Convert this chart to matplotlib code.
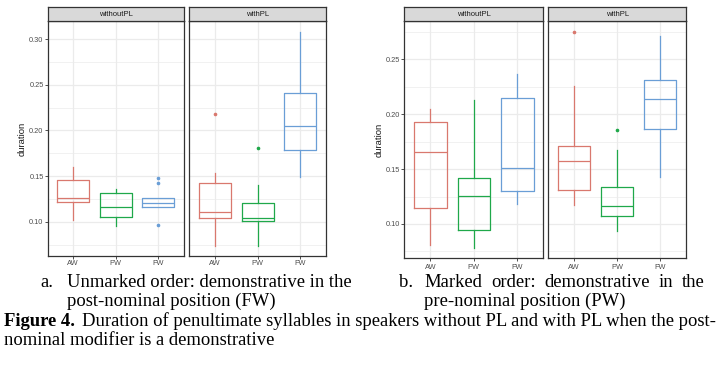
import matplotlib
matplotlib.use('Agg')
import matplotlib.pyplot as plt
import numpy as np

W, H = 727, 366

# categories and facets
groups = ['AW', 'PW', 'FW']
facets = ['withoutPL', 'withPL']
colors = ['#D9786E', '#1FA84A', '#6A9ED6']

# box stats per category: [lower whisker, Q1, median, Q3, upper whisker]
a_withoutPL = [[0.1015, 0.1215, 0.1260, 0.1456, 0.1600],
               [0.0960, 0.1058, 0.1160, 0.1321, 0.1358],
               [0.1160, 0.1160, 0.1204, 0.1260, 0.1260]]
a_withoutPL_out = [[], [], [0.1485, 0.1430, 0.0964]]
a_withPL = [[0.0740, 0.1043, 0.1106, 0.1423, 0.1533],
            [0.0740, 0.1011, 0.1047, 0.1205, 0.1405],
            [0.1496, 0.1785, 0.2047, 0.2405, 0.3077]]
a_withPL_out = [[0.2179], [0.1810], []]

b_withoutPL = [[0.0812, 0.1143, 0.1653, 0.1926, 0.2048],
               [0.0785, 0.0945, 0.1252, 0.1422, 0.2133],
               [0.1179, 0.1297, 0.1506, 0.2145, 0.2363]]
b_withoutPL_out = [[], [], []]
b_withPL = [[0.1176, 0.1313, 0.1571, 0.1708, 0.2254],
            [0.0939, 0.1070, 0.1161, 0.1340, 0.1674],
            [0.1432, 0.1863, 0.2136, 0.2315, 0.2712]]
b_withPL_out = [[0.2752], [0.1853], []]

a_major = [0.10, 0.15, 0.20, 0.25, 0.30]
b_major = [0.10, 0.15, 0.20, 0.25]
minor_ticks = [0.075, 0.125, 0.175, 0.225, 0.275]


def px_axes(fig, x0, y0, x1, y1):
    return fig.add_axes([x0 / W, 1 - y1 / H, (x1 - x0) / W, (y1 - y0) / H])


def draw_panel(ax, stats, outs, ylim, major, show_y, xpad):
    for i, (s, o) in enumerate(zip(stats, outs)):
        st = [dict(whislo=s[0], q1=s[1], med=s[2], q3=s[3], whishi=s[4], fliers=o)]
        c = colors[i]
        ax.bxp(st, positions=[i + 1], widths=0.75, showcaps=False,
               boxprops=dict(color=c, linewidth=0.9),
               whiskerprops=dict(color=c, linewidth=0.9),
               medianprops=dict(color=c, linewidth=0.9),
               flierprops=dict(marker='o', markersize=1.6, markerfacecolor=c,
                               markeredgecolor=c, linestyle='none'),
               zorder=3)
    ax.set_xlim(0.4, 3.6)
    ax.set_ylim(*ylim)
    ax.set_xticks([1, 2, 3])
    ax.set_xticklabels(groups)
    ax.set_yticks(major)
    ax.set_yticks(minor_ticks, minor=True)
    ax.set_yticklabels(['%.2f' % v for v in major])
    ax.grid(True, which='major', color='#EBEBEB', linewidth=0.9, zorder=0)
    ax.grid(True, which='minor', axis='y', color='#EBEBEB', linewidth=0.5, zorder=0)
    ax.set_axisbelow(True)
    ax.tick_params(axis='both', which='major', length=2.2, width=0.6, color='#333333',
                   labelsize=5.3, labelcolor='#4D4D4D', pad=0.8)
    ax.tick_params(axis='x', pad=xpad)
    ax.tick_params(axis='y', which='minor', length=0)
    if not show_y:
        ax.tick_params(axis='y', which='major', left=False, labelleft=False)
    for sp in ax.spines.values():
        sp.set_color('#333333')
        sp.set_linewidth(0.9)


def draw_strip(fig, x0, y0, x1, y1, label):
    s = px_axes(fig, x0, y0, x1, y1)
    s.set_facecolor('#D9D9D9')
    s.set_xticks([])
    s.set_yticks([])
    for sp in s.spines.values():
        sp.set_color('#333333')
        sp.set_linewidth(0.9)
    s.text(0.5, 0.5, label, ha='center', va='center', fontsize=5.5, color='#1A1A1A')


def ylim_of(*panels):
    vals = []
    for stats, outs in panels:
        for s in stats:
            vals += s
        for o in outs:
            vals += o
    lo, hi = min(vals), max(vals)
    pad = (hi - lo) * 0.05
    return lo - pad, hi + pad


plt.rcParams['font.family'] = ['Liberation Sans', 'DejaVu Sans']
fig = plt.figure(figsize=(W / 100, H / 100), dpi=100)

# chart a
ylim_a = ylim_of((a_withoutPL, a_withoutPL_out), (a_withPL, a_withPL_out))
ax1 = px_axes(fig, 47.7, 21.3, 184, 256.3)
draw_panel(ax1, a_withoutPL, a_withoutPL_out, ylim_a, a_major, True, 0.6)
ax2 = px_axes(fig, 189.3, 21.3, 326, 256.3)
draw_panel(ax2, a_withPL, a_withPL_out, ylim_a, a_major, False, 0.6)
draw_strip(fig, 47.7, 7.3, 184, 21.3, facets[0])
draw_strip(fig, 189.3, 7.3, 326, 21.3, facets[1])
fig.text(21.7 / W, 1 - 138.7 / H, 'duration', rotation=90, ha='center', va='center',
         fontsize=6.8, color='#1A1A1A')

# chart b
ylim_b = ylim_of((b_withoutPL, b_withoutPL_out), (b_withPL, b_withPL_out))
ax3 = px_axes(fig, 404.3, 21, 543.3, 258.3)
draw_panel(ax3, b_withoutPL, b_withoutPL_out, ylim_b, b_major, True, 2.0)
ax4 = px_axes(fig, 548.3, 21, 686, 258.3)
draw_panel(ax4, b_withPL, b_withPL_out, ylim_b, b_major, False, 2.0)
draw_strip(fig, 404.3, 7.3, 543.3, 21, facets[0])
draw_strip(fig, 548.3, 7.3, 686, 21, facets[1])
fig.text(379 / W, 1 - 139.6 / H, 'duration', rotation=90, ha='center', va='center',
         fontsize=6.8, color='#1A1A1A')

# captions
serif = ['Liberation Serif', 'DejaVu Serif']
cap = dict(fontsize=13.4, family=serif, color='black', va='baseline', ha='left')


def ftext(x, y, s, **kw):
    return fig.text(x / W, 1 - y / H, s, **kw)


ftext(40, 286.7, 'a.', **cap)
ftext(66.7, 286.7, 'Unmarked order: demonstrative in the', **cap)
ftext(66.7, 305.5, 'post-nominal position (FW)', **cap)

ftext(399, 286.7, 'b.', **cap)
# justified line: spread the words between x0 and x1
words = ['Marked', 'order:', 'demonstrative', 'in', 'the']
x0, x1 = 424.3, 705.0
renderer = fig.canvas.get_renderer()
arts = [ftext(x0, 286.7, w, **cap) for w in words]
widths = [a.get_window_extent(renderer).width for a in arts]
gap = (x1 - x0 - sum(widths)) / (len(words) - 1)
x = x0
for a, wd in zip(arts, widths):
    a.set_x(x / W)
    x += wd + gap
ftext(424.3, 305.5, 'pre-nominal position (PW)', **cap)

ftext(4, 325.7, 'Figure 4.', fontweight='bold', **cap)
ftext(82.3, 325.7, 'Duration of penultimate syllables in speakers without PL and with PL when the post-', **cap)
ftext(4, 345, 'nominal modifier is a demonstrative', **cap)

fig.savefig('out.png', dpi=100)
plt.close(fig)
